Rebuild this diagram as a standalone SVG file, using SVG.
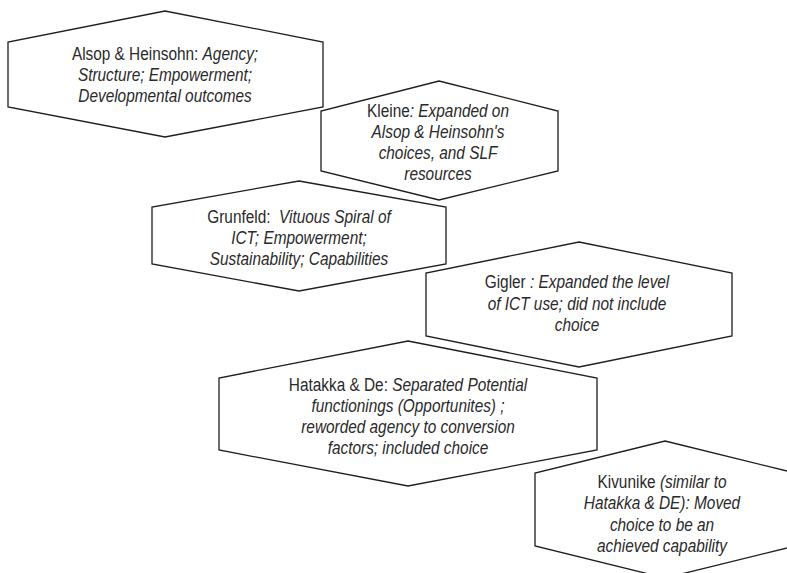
<svg xmlns="http://www.w3.org/2000/svg" width="787" height="573" viewBox="0 0 787 573">
  <style>
    .hex { fill: #ffffff; stroke: #1e1e1e; stroke-width: 1.3; stroke-linejoin: miter; }
    .lbl { font-family: "Liberation Sans", Arial, sans-serif; font-size: 19px; fill: #2a2a2a; text-anchor: middle; }
    .it { font-style: italic; }
  </style>
  <rect width="787" height="573" fill="#ffffff"/>

  <!-- connectors: none, the hexagons simply overlap in a descending chain -->
  <g id="connectors"></g>

  <g id="alsop-heinsohn">
    <polygon class="hex" points="165,11 323,42 323,107 165,137 8,107 8,42"/>
    <g class="lbl" transform="translate(165,0) scale(0.81,1)">
      <text y="60">Alsop &amp; Heinsohn:&#160;<tspan class="it">Agency;</tspan></text>
      <text y="81" class="it">Structure; Empowerment;</text>
      <text y="102" class="it">Developmental outcomes</text>
    </g>
  </g>

  <g id="kleine">
    <polygon class="hex" points="439,81 558,111 558,171 439,200 321,171 321,111"/>
    <g class="lbl" transform="translate(438,0) scale(0.81,1)">
      <text y="117">Kleine<tspan class="it">: Expanded on</tspan></text>
      <text y="138" class="it">Alsop &amp; Heinsohn's</text>
      <text y="159" class="it">choices, and SLF</text>
      <text y="180" class="it">resources</text>
    </g>
  </g>

  <g id="grunfeld">
    <polygon class="hex" points="299,181 446,207 446,264 299,291 152,264 152,207"/>
    <g class="lbl" transform="translate(299,0) scale(0.81,1)">
      <text y="223">Grunfeld:&#160;&#160;<tspan class="it">Vituous Spiral of</tspan></text>
      <text y="244" class="it">ICT; Empowerment;</text>
      <text y="265" class="it">Sustainability; Capabilities</text>
    </g>
  </g>

  <g id="gigler">
    <polygon class="hex" points="579,242 732,273 732,336 579,367 426,336 426,273"/>
    <g class="lbl" transform="translate(577,0) scale(0.81,1)">
      <text y="288">Gigler<tspan class="it">&#160;: Expanded the level</tspan></text>
      <text y="310" class="it">of ICT use; did not include</text>
      <text y="331" class="it">choice</text>
    </g>
  </g>

  <g id="hatakka-de">
    <polygon class="hex" points="408,341 597,378 597,450 408,486 219,450 219,378"/>
    <g class="lbl" transform="translate(408,0) scale(0.81,1)">
      <text y="391">Hatakka &amp; De:&#160;<tspan class="it">Separated Potential</tspan></text>
      <text y="412" class="it">functionings (Opportunites) ;</text>
      <text y="433" class="it">reworded agency to conversion</text>
      <text y="454" class="it">factors; included choice</text>
    </g>
  </g>

  <g id="kivunike">
    <polygon class="hex" points="665,441 795,473 795,546 665,578 535,546 535,473"/>
    <g class="lbl" transform="translate(662,0) scale(0.81,1)">
      <text y="488">Kivunike&#160;<tspan class="it">(similar to</tspan></text>
      <text y="509" class="it">Hatakka &amp; DE): Moved</text>
      <text y="531" class="it">choice to be an</text>
      <text y="552" class="it">achieved capability</text>
    </g>
  </g>
</svg>
